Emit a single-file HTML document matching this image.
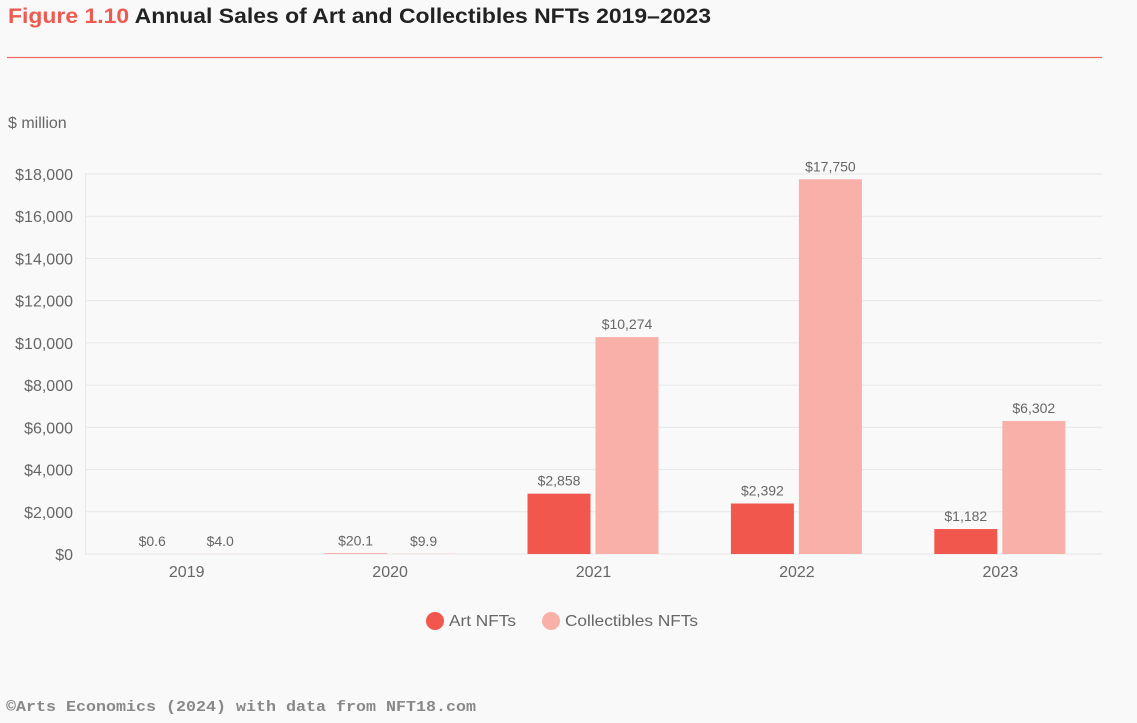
<!DOCTYPE html>
<html><head><meta charset="utf-8"><style>
body{margin:0;background:#f9f9f9;width:1137px;height:723px;overflow:hidden;font-family:"Liberation Sans",sans-serif}
svg{position:absolute;left:0;top:0}
</style></head><body>
<svg width="1137" height="723">
<text x="8" y="23" font-size="21" font-weight="bold" fill="#222" textLength="703" lengthAdjust="spacingAndGlyphs"><tspan fill="#ec5a50">Figure 1.10</tspan> Annual Sales of Art and Collectibles NFTs 2019–2023</text>
<line x1="7" y1="57.5" x2="1102" y2="57.5" stroke="#ec6b62" stroke-width="1.2"/>
<text x="8" y="128" font-size="16" fill="#666">$ million</text>
<g id="grid"></g><g id="bars"></g>
<g>
<circle cx="435" cy="621" r="9" fill="#f2574d"/>
<text x="449" y="626" font-size="16" fill="#666" textLength="67" lengthAdjust="spacingAndGlyphs">Art NFTs</text>
<circle cx="551" cy="621" r="9" fill="#f9b0a9"/>
<text x="565" y="626" font-size="16" fill="#666" textLength="133" lengthAdjust="spacingAndGlyphs">Collectibles NFTs</text>
</g>
<text x="6" y="711" font-size="15" font-family="Liberation Mono,monospace" font-weight="bold" fill="#888" textLength="470" lengthAdjust="spacingAndGlyphs">©Arts Economics (2024) with data from NFT18.com</text>
</svg>
<script>
const categories=["2019","2020","2021","2022","2023"];
const artValues=[0.6,20.1,2858,2392,1182];
const collectiblesValues=[4.0,9.9,10274,17750,6302];
const artLabels=["$0.6","$20.1","$2,858","$2,392","$1,182"];
const collectiblesLabels=["$4.0","$9.9","$10,274","$17,750","$6,302"];
const yTicks=[0,2000,4000,6000,8000,10000,12000,14000,16000,18000];
const yTickLabels=["$0","$2,000","$4,000","$6,000","$8,000","$10,000","$12,000","$14,000","$16,000","$18,000"];
const NS="http://www.w3.org/2000/svg";
const x0=85,x1=1102,y0=554,yTop=174,yMax=18000;
const y=v=>y0-(v/yMax)*(y0-yTop);
const band=(x1-x0)/categories.length;
const xc=i=>x0+band*(i+0.5);
function mk(t,a,p){const e=document.createElementNS(NS,t);for(const k in a)e.setAttribute(k,a[k]);p.appendChild(e);return e;}
const grid=document.getElementById('grid'),bars=document.getElementById('bars');
yTicks.forEach((v,i)=>{
 const l=mk('line',{x1:x0,x2:x1,y1:y(v),y2:y(v),stroke:'#e8e8e8'},grid);
 
 
 const t=mk('text',{x:73,y:y(v)+6,'font-size':16,fill:'#666','text-anchor':'end'},grid);
 t.textContent=yTickLabels[i];
 
 
});
const ax=mk('line',{x1:x0+0.5,x2:x0+0.5,y1:yTop,y2:y0,stroke:'#e8e8e8'},grid);


categories.forEach((c,i)=>{
 const cx=xc(i);
 const t=mk('text',{x:cx,y:577,'font-size':16,fill:'#666','text-anchor':'middle'},bars);
 t.textContent=c;
 
 
 [[artValues,artLabels,'#f2574d',cx-66,'art'],[collectiblesValues,collectiblesLabels,'#f9b0a9',cx+2,'collectibles']].forEach(([vals,labs,col,bx,nm])=>{
  const v=vals[i];
  const r=mk('rect',{x:bx,y:y(v),width:63,height:y0-y(v),fill:col},bars);
  
  
  const lt=mk('text',{x:bx+31.5,y:y(v)-8,'font-size':14,fill:'#666','text-anchor':'middle'},bars);
  lt.textContent=labs[i];
  
  
 });
});
</script>
</body></html>
